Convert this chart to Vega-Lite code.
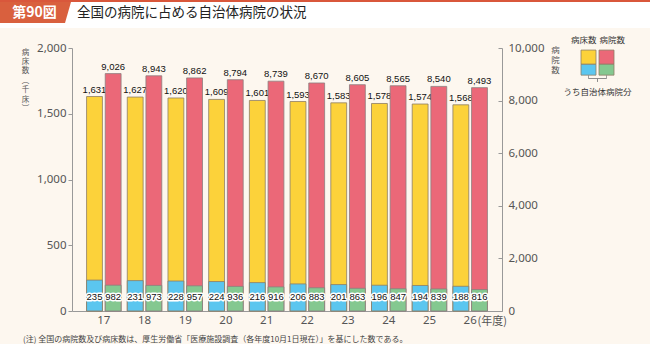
{
  "$schema": "https://vega.github.io/schema/vega-lite/v6.json",
  "background": "#fdf7ef",
  "padding": 0,
  "spacing": 7,
  "config": {
    "view": {"stroke": null},
    "font": "Noto Sans CJK JP",
    "concat": {"spacing": 0}
  },
  "title": {
    "text": "(注)  全国の病院数及び病床数は、厚生労働省「医療施設調査（各年度10月1日現在）」を基にした数である。",
    "orient": "bottom",
    "anchor": "start",
    "frame": "group",
    "fontSize": 8,
    "fontWeight": "normal",
    "color": "#444",
    "font": "Noto Sans CJK JP",
    "dx": -49,
    "offset": 10
  },
  "vconcat": [
    {
      "width": 578,
      "height": 28,
      "view": {"fill": "white", "stroke": null},
      "data": {"values": [{"badge": "第90図", "label": "全国の病院に占める自治体病院の状況"}]},
      "layer": [
        {
          "mark": {"type": "point", "shape": "M-361,-14L-288,-14L-288,14L-361,14Z", "size": 4, "filled": true, "fill": "white", "strokeWidth": 0, "opacity": 1},
          "encoding": {}
        },
        {
          "mark": {"type": "point", "shape": "M-361,-12L-290,-12L-296,9L-361,9Z", "size": 4, "filled": true, "fill": "#d9603e", "strokeWidth": 0, "opacity": 1},
          "encoding": {}
        },
        {
          "mark": {"type": "point", "shape": "M-361,-14L289,-14L289,-12L-361,-12Z", "size": 4, "filled": true, "fill": "#d9573b", "strokeWidth": 0, "opacity": 1},
          "encoding": {}
        },
        {
          "mark": {"type": "text", "color": "white", "fontSize": 14, "fontWeight": "bold", "dx": -326.5, "dy": -1.5},
          "encoding": {"text": {"field": "badge"}}
        },
        {
          "mark": {"type": "text", "color": "#222", "fontSize": 13.5, "align": "left", "dx": -284, "dy": -1},
          "encoding": {"text": {"field": "label"}}
        }
      ]
    },
    {
      "spacing": 3,
      "hconcat": [
        {
          "width": 430,
          "height": 263,
          "data": {
            "values": [
              {"year": "17", "kind": "病床数", "total": 1631, "local": 235},
              {"year": "17", "kind": "病院数", "total": 9026, "local": 982},
              {"year": "18", "kind": "病床数", "total": 1627, "local": 231},
              {"year": "18", "kind": "病院数", "total": 8943, "local": 973},
              {"year": "19", "kind": "病床数", "total": 1620, "local": 228},
              {"year": "19", "kind": "病院数", "total": 8862, "local": 957},
              {"year": "20", "kind": "病床数", "total": 1609, "local": 224},
              {"year": "20", "kind": "病院数", "total": 8794, "local": 936},
              {"year": "21", "kind": "病床数", "total": 1601, "local": 216},
              {"year": "21", "kind": "病院数", "total": 8739, "local": 916},
              {"year": "22", "kind": "病床数", "total": 1593, "local": 206},
              {"year": "22", "kind": "病院数", "total": 8670, "local": 883},
              {"year": "23", "kind": "病床数", "total": 1583, "local": 201},
              {"year": "23", "kind": "病院数", "total": 8605, "local": 863},
              {"year": "24", "kind": "病床数", "total": 1578, "local": 196},
              {"year": "24", "kind": "病院数", "total": 8565, "local": 847},
              {"year": "25", "kind": "病床数", "total": 1574, "local": 194},
              {"year": "25", "kind": "病院数", "total": 8540, "local": 839},
              {"year": "26", "kind": "病床数", "total": 1568, "local": 188},
              {"year": "26", "kind": "病院数", "total": 8493, "local": 816}
            ]
          },
          "encoding": {
            "x": {
              "field": "year", "type": "ordinal",
              "scale": {"paddingInner": 0.152, "paddingOuter": 0.358},
              "axis": {
                "title": "(年度)", "titleX": 405, "titleY": 10, "titleAlign": "left", "titleBaseline": "middle",
                "titleFontSize": 11, "titleFontWeight": "normal", "titleColor": "#555", "titleFont": "Noto Sans CJK JP",
                "labelAngle": 0, "ticks": false, "labelPadding": 3, "labelFontSize": 11.5, "labelColor": "#555",
                "labelFont": "Noto Sans", "domainColor": "#999"
              }
            },
            "xOffset": {"field": "kind", "type": "nominal", "scale": {"domain": ["病床数", "病院数"], "paddingInner": 0.15}}
          },
          "layer": [
            {
              "transform": [{"filter": "datum.kind === '病床数'"}],
              "layer": [
                {
                  "mark": {"type": "bar", "fill": "#fcd23a", "stroke": "#8d7d66", "strokeWidth": 0.8},
                  "encoding": {
                    "y": {
                      "field": "total", "type": "quantitative", "scale": {"domain": [0, 2000]},
                      "axis": {
                        "orient": "left",
                        "title": ["病", "床", "数", "︵", "千", "床", "︶"],
                        "titleAngle": 0, "titleX": -47, "titleY": 0, "titleAlign": "center", "titleBaseline": "top",
                        "titleFontSize": 7.5, "titleLineHeight": 9.4, "titleFontWeight": "normal", "titleColor": "#555",
                        "values": [0, 500, 1000, 1500, 2000], "labelExpr": "format(datum.value, ',')", "grid": false,
                        "tickSize": 4, "labelPadding": 2, "labelFontSize": 11.5, "labelColor": "#555", "labelFont": "Noto Sans",
                        "tickColor": "#999", "domainColor": "#999"
                      }
                    }
                  }
                },
                {
                  "mark": {"type": "bar", "fill": "#5bc6ef", "stroke": "#8d7d66", "strokeWidth": 0.8},
                  "encoding": {"y": {"field": "local", "type": "quantitative"}}
                },
                {
                  "mark": {"type": "text", "baseline": "bottom", "dy": -2, "fontSize": 9.5, "font": "Liberation Sans", "color": "#111"},
                  "encoding": {
                    "y": {"field": "total", "type": "quantitative"},
                    "text": {"field": "total", "type": "quantitative", "format": ","}
                  }
                },
                {
                  "mark": {"type": "text", "dy": -14, "fontSize": 9.5, "font": "Liberation Sans", "fill": "white", "stroke": "white", "strokeWidth": 3, "strokeJoin": "round"},
                  "encoding": {
                    "y": {"datum": 0, "type": "quantitative"},
                    "text": {"field": "local", "type": "quantitative", "format": ","}
                  }
                },
                {
                  "mark": {"type": "text", "dy": -14, "fontSize": 9.5, "font": "Liberation Sans", "color": "#111"},
                  "encoding": {
                    "y": {"datum": 0, "type": "quantitative"},
                    "text": {"field": "local", "type": "quantitative", "format": ","}
                  }
                }
              ]
            },
            {
              "transform": [{"filter": "datum.kind === '病院数'"}],
              "layer": [
                {
                  "mark": {"type": "bar", "fill": "#eb6878", "stroke": "#8d7d7d", "strokeWidth": 0.8},
                  "encoding": {
                    "y": {
                      "field": "total", "type": "quantitative", "scale": {"domain": [0, 10000]},
                      "axis": {
                        "orient": "right",
                        "title": ["病", "院", "数"],
                        "titleAngle": 0, "titleX": 53, "titleY": -3, "titleAlign": "center", "titleBaseline": "top",
                        "titleFontSize": 8.5, "titleLineHeight": 10.2, "titleFontWeight": "normal", "titleColor": "#555",
                        "values": [0, 1000, 2000, 3000, 4000, 5000, 6000, 7000, 8000, 9000, 10000], "labelExpr": "format(datum.value, ',')", "grid": false,
                        "tickSize": -4, "labelPadding": 10, "labelFontSize": 11.5, "labelColor": "#555", "labelFont": "Noto Sans",
                        "tickColor": "#999", "domainColor": "#999"
                      }
                    }
                  }
                },
                {
                  "mark": {"type": "bar", "fill": "#84c890", "stroke": "#8d7d7d", "strokeWidth": 0.8},
                  "encoding": {"y": {"field": "local", "type": "quantitative"}}
                },
                {
                  "mark": {"type": "text", "baseline": "bottom", "dy": -2, "fontSize": 9.5, "font": "Liberation Sans", "color": "#111"},
                  "encoding": {
                    "y": {"field": "total", "type": "quantitative"},
                    "text": {"field": "total", "type": "quantitative", "format": ","}
                  }
                },
                {
                  "mark": {"type": "text", "dy": -14, "fontSize": 9.5, "font": "Liberation Sans", "fill": "white", "stroke": "white", "strokeWidth": 3, "strokeJoin": "round"},
                  "encoding": {
                    "y": {"datum": 0, "type": "quantitative"},
                    "text": {"field": "local", "type": "quantitative", "format": ","}
                  }
                },
                {
                  "mark": {"type": "text", "dy": -14, "fontSize": 9.5, "font": "Liberation Sans", "color": "#111"},
                  "encoding": {
                    "y": {"datum": 0, "type": "quantitative"},
                    "text": {"field": "local", "type": "quantitative", "format": ","}
                  }
                }
              ]
            }
          ],
          "resolve": {"scale": {"y": "independent"}}
        },
        {
          "width": 27,
          "height": 38,
          "title": {"text": "うち自治体病院分", "orient": "bottom", "fontSize": 8.5, "fontWeight": "normal", "color": "#333", "offset": 2},
          "data": {"values": [{"k": "病床数"}, {"k": "病院数"}]},
          "encoding": {
            "x": {
              "field": "k", "type": "ordinal",
              "scale": {"type": "band", "domain": ["病床数", "中", "病院数"], "paddingInner": 0, "paddingOuter": 0},
              "axis": {
                "orient": "top", "values": ["病床数", "病院数"], "title": null, "ticks": false, "domain": false,
                "labelAngle": 0, "labelPadding": 4, "labelFontSize": 8.5, "labelColor": "#333",
                "labelAlign": {"condition": {"test": "datum.value === '病床数'", "value": "right"}, "value": "left"},
                "labelOffset": {"condition": {"test": "datum.value === '病床数'", "value": 8}, "value": -7}
              }
            }
          },
          "layer": [
            {
              "mark": {"type": "bar", "width": 15, "stroke": "#8d7d66", "strokeWidth": 0.8},
              "encoding": {
                "y": {"datum": 1, "type": "quantitative", "scale": {"domain": [-0.62, 2.31]}, "axis": null},
                "y2": {"datum": 2.31},
                "fill": {"condition": {"test": "datum.k === '病床数'", "value": "#fcd23a"}, "value": "#eb6878"}
              }
            },
            {
              "mark": {"type": "bar", "width": 15, "stroke": "#8d7d66", "strokeWidth": 0.8},
              "encoding": {
                "y": {"datum": 0, "type": "quantitative", "axis": null},
                "y2": {"datum": 1},
                "fill": {"condition": {"test": "datum.k === '病床数'", "value": "#5bc6ef"}, "value": "#84c890"}
              }
            },
            {
              "mark": {"type": "rule", "color": "#888", "strokeWidth": 0.8},
              "encoding": {
                "y": {"datum": 0, "type": "quantitative", "axis": null},
                "y2": {"datum": -0.31}
              }
            },
            {
              "mark": {"type": "rule", "color": "#888", "strokeWidth": 0.8},
              "encoding": {
                "x": {"datum": "病床数", "type": "ordinal"},
                "x2": {"datum": "病院数"},
                "y": {"datum": -0.31, "type": "quantitative", "axis": null}
              }
            },
            {
              "mark": {"type": "rule", "color": "#888", "strokeWidth": 0.8},
              "encoding": {
                "x": {"datum": "中", "type": "ordinal"},
                "y": {"datum": -0.31, "type": "quantitative", "axis": null},
                "y2": {"datum": -0.62}
              }
            }
          ]
        }
      ]
    }
  ]
}
